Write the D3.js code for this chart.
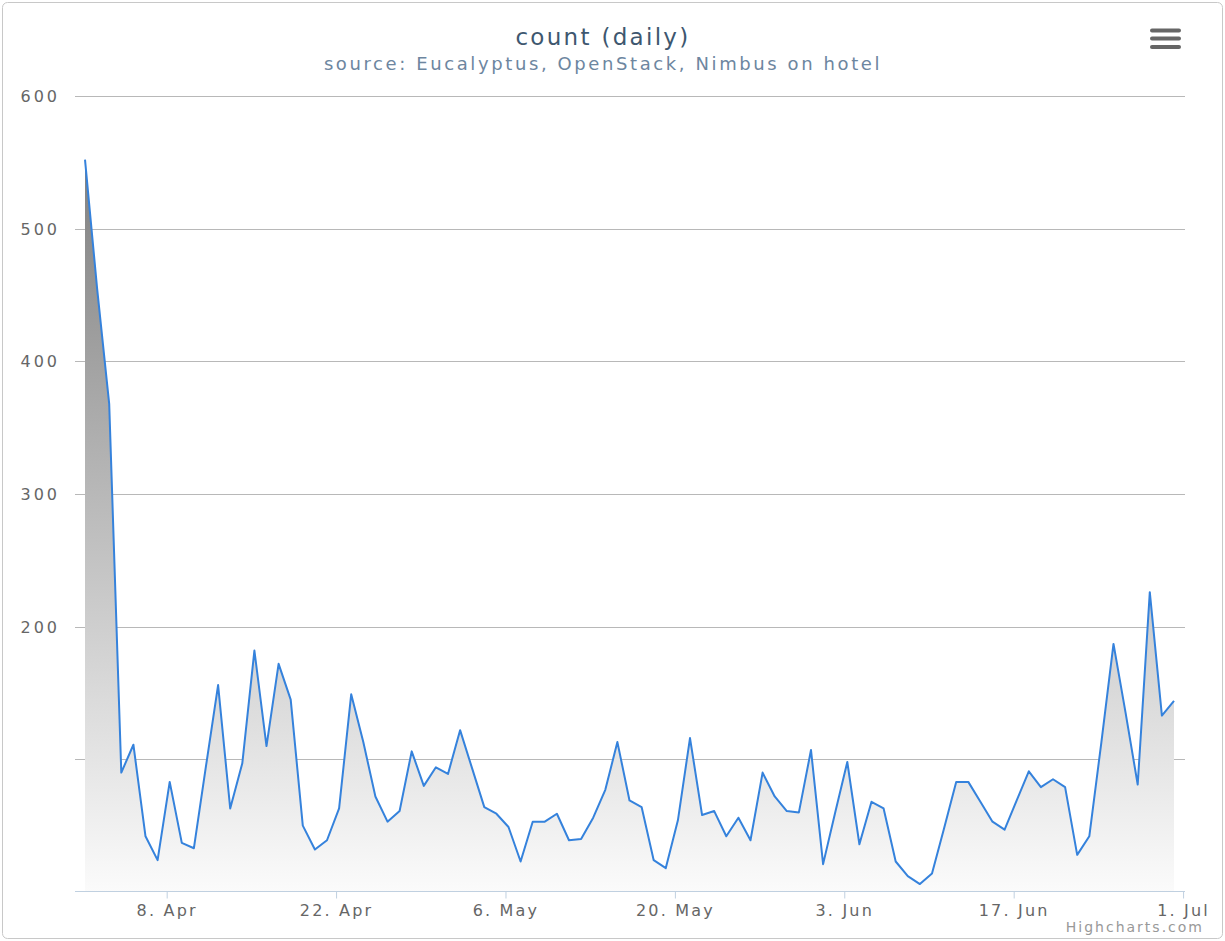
<!DOCTYPE html>
<html>
<head>
<meta charset="utf-8">
<script src="https://cdn.jsdelivr.net/npm/d3@7"></script>
<style>
  body { margin: 0; background: #fff; }
  svg { display: block; font-family: "DejaVu Sans", Verdana, sans-serif; }
</style>
</head>
<body>
<svg class="mainsvg" width="1225" height="941"></svg>
<script>
// daily counts, 1 Apr .. 30 Jun
var counts = [552, 455, 368, 90, 111, 42, 24, 83, 37, 33,
	95, 156, 63, 97, 182, 110, 172, 145, 50, 32,
	39, 63, 149, 113, 72, 53, 61, 106, 80, 94,
	89, 122, 93, 64, 59, 49, 23, 53, 53, 59,
	39, 40, 56, 77, 113, 69, 64, 24, 18, 54,
	116, 58, 61, 42, 56, 39, 90, 72, 61, 60,
	107, 21, 60, 98, 36, 68, 63, 23, 12, 6,
	14, 48, 83, 83, 68, 53, 47, 69, 91, 79,
	85, 79, 28, 42, 113, 187, 135, 81, 226, 133,
	144];
var startDay = Date.UTC(2013, 3, 1, 6);
var tickDays = ["2013-04-08", "2013-04-22", "2013-05-06", "2013-05-20", "2013-06-03", "2013-06-17", "2013-07-01"];
var gridValues = [100, 200, 300, 400, 500, 600];
var labelValues = [200, 300, 400, 500, 600];

var _width = 1225, _height = 941;
var plot = {left: 75, right: 1185, top: 96, bottom: 892};

var data = counts.map(function (c, i) {
	return {date: d3.utcDay.offset(new Date(startDay), i), value: c};
});

var svg = d3.select('.mainsvg');

svg.append('rect')
	.attr('x', 2.5)
	.attr('y', 2.5)
	.attr('width', _width - 5)
	.attr('height', _height - 5)
	.attr('rx', 5)
	.attr('fill', '#fff')
	.attr('stroke', '#c8c8c8')

var x = d3.scaleUtc()
	.domain([data[0].date, data[data.length - 1].date])
	.range([85, 1174]);

var y = d3.scaleLinear()
	.domain([0, 600])
	.range([plot.bottom, plot.top]);

// grid
svg.append('g')
	.selectAll('line')
	.data(gridValues)
	.join('line')
	.attr('x1', plot.left)
	.attr('x2', plot.right)
	.attr('y1', function (d) { return Math.round(y(d)) + 0.5; })
	.attr('y2', function (d) { return Math.round(y(d)) + 0.5; })
	.attr('stroke', '#b8b8b8')
	.attr('stroke-width', 1.2)

svg.append('g')
	.selectAll('text')
	.data(labelValues)
	.join('text')
	.attr('x', 60)
	.attr('y', function (d) { return y(d) + 6; })
	.attr('fill', '#666')
	.attr('font-size', '16px')
	.attr('letter-spacing', '3px')
	.style('text-anchor', 'end')
	.text(function (d) { return d; })

// area with gradient
var grad = svg.append('defs').append('linearGradient')
	.attr('id', 'areaFill')
	.attr('x1', 0).attr('y1', 0).attr('x2', 0).attr('y2', 1)
grad.append('stop').attr('offset', 0).attr('stop-color', '#808080')
grad.append('stop').attr('offset', 1).attr('stop-color', '#fbfbfb')

var area = d3.area()
	.x(function (d) { return x(d.date); })
	.y0(y(0))
	.y1(function (d) { return y(d.value); });

var line = d3.line()
	.x(function (d) { return x(d.date); })
	.y(function (d) { return y(d.value); });

svg.append('path')
	.datum(data)
	.attr('d', area)
	.attr('fill', 'url(#areaFill)')

svg.append('path')
	.datum(data)
	.attr('d', line)
	.attr('fill', 'none')
	.attr('stroke', '#3582dc')
	.attr('stroke-width', 2)
	.attr('stroke-linejoin', 'round')

// x axis
var parseDay = d3.utcParse('%Y-%m-%d');
var tickDates = tickDays.map(parseDay);

svg.append('line')
	.attr('x1', plot.left)
	.attr('x2', plot.right)
	.attr('y1', plot.bottom - 0.5)
	.attr('y2', plot.bottom - 0.5)
	.attr('stroke', '#c0d0e0')

var xAxis = svg.append('g')
	.attr('transform', 'translate(0,' + (plot.bottom - 0.5) + ')')
	.call(d3.axisBottom(x)
		.tickValues(tickDates)
		.tickSize(7)
		.tickPadding(6)
		.tickFormat(d3.utcFormat('%-d. %b')))

xAxis.select('.domain').remove()
xAxis.selectAll('line').attr('stroke', '#c0d0e0')
xAxis.selectAll('text')
	.attr('fill', '#666')
	.attr('font-size', '16px')
	.attr('letter-spacing', '2.2px')
	.attr('font-family', '"DejaVu Sans", Verdana, sans-serif')

// titles
svg.append('text')
	.attr('x', 603)
	.attr('y', 45)
	.attr('fill', '#3e576f')
	.attr('font-size', '23px')
	.attr('letter-spacing', '2.3px')
	.style('text-anchor', 'middle')
	.text('count (daily)')

svg.append('text')
	.attr('x', 603)
	.attr('y', 70)
	.attr('fill', '#6d869f')
	.attr('font-size', '18px')
	.attr('letter-spacing', '2.6px')
	.style('text-anchor', 'middle')
	.text('source: Eucalyptus, OpenStack, Nimbus on hotel')

// menu button
svg.append('g')
	.selectAll('line')
	.data([30.5, 38.5, 47])
	.join('line')
	.attr('x1', 1152)
	.attr('x2', 1179)
	.attr('y1', function (d) { return d; })
	.attr('y2', function (d) { return d; })
	.attr('stroke', '#666')
	.attr('stroke-width', 4)
	.attr('stroke-linecap', 'round')

// credits
svg.append('text')
	.attr('x', 1204)
	.attr('y', 932)
	.attr('fill', '#999')
	.attr('font-size', '14px')
	.attr('letter-spacing', '2px')
	.style('text-anchor', 'end')
	.text('Highcharts.com')
</script>
</body>
</html>
